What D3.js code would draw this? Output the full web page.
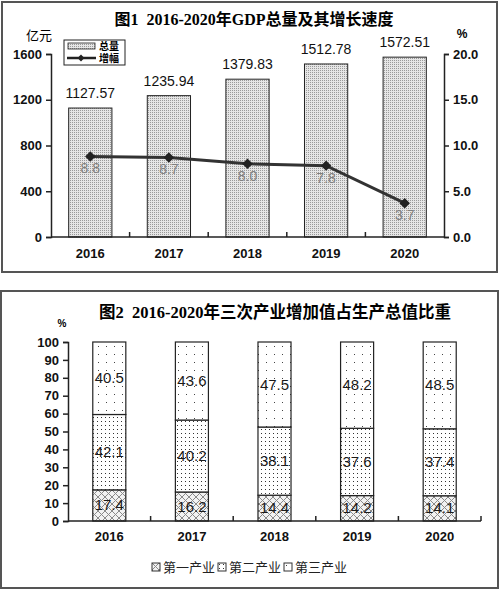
<!DOCTYPE html>
<html>
<head>
<meta charset="utf-8">
<script src="https://cdn.jsdelivr.net/npm/d3@7"></script>
<style>
  body { margin: 0; background: #fff; }
  svg { display: block; }
</style>
</head>
<body>
<svg id="chart" width="500" height="589"></svg>
<script>
// chart 1 data
const years = ["2016", "2017", "2018", "2019", "2020"];
const gdp = [1127.57, 1235.94, 1379.83, 1512.78, 1572.51];
const growth = [8.8, 8.7, 8.0, 7.8, 3.7];
const gdpTicks = [0, 400, 800, 1200, 1600];
const growthTicks = [0, 5, 10, 15, 20];

// chart 2 data
const primary = [17.4, 16.2, 14.4, 14.2, 14.1];
const secondary = [42.1, 40.2, 38.1, 37.6, 37.4];
const tertiary = [40.5, 43.6, 47.5, 48.2, 48.5];
const shareTicks = [0, 10, 20, 30, 40, 50, 60, 70, 80, 90, 100];
const industryNames = ["第一产业", "第二产业", "第三产业"];

const SANS = "'Liberation Sans', Arial, 'Noto Sans CJK SC', sans-serif";
const TITLE = "'Liberation Serif', 'Noto Sans CJK SC', serif";

const SVG = d3.select("#chart");

// patterns
const defs = SVG.append("defs");
const p1 = defs.append("pattern").attr("id", "gdpPat")
    .attr("width", 2).attr("height", 2).attr("patternUnits", "userSpaceOnUse");
p1.append("rect").attr("width", 2).attr("height", 2).attr("fill", "#e6e6e6");
p1.append("rect").attr("width", 1).attr("height", 1).attr("fill", "#9a9a9a");

const pT = defs.append("pattern").attr("id", "terPat")
    .attr("width", 8).attr("height", 8).attr("patternUnits", "userSpaceOnUse");
pT.append("rect").attr("width", 8).attr("height", 8).attr("fill", "#fff");
pT.append("rect").attr("x", 2).attr("y", 2).attr("width", 1).attr("height", 1).attr("fill", "#444");

const pS = defs.append("pattern").attr("id", "secPat")
    .attr("width", 4).attr("height", 4).attr("patternUnits", "userSpaceOnUse");
pS.append("rect").attr("width", 4).attr("height", 4).attr("fill", "#fff");
pS.append("rect").attr("x", 1).attr("y", 1).attr("width", 1).attr("height", 1).attr("fill", "#333");

const pP = defs.append("pattern").attr("id", "priPat")
    .attr("width", 7).attr("height", 7).attr("patternUnits", "userSpaceOnUse");
pP.append("rect").attr("width", 7).attr("height", 7).attr("fill", "#f2f2f2");
pP.append("path").attr("d", "M0,0L7,7M7,0L0,7").attr("stroke", "#8a8a8a").attr("stroke-width", 1);

// frames
SVG.append("rect").attr("x", 2).attr("y", 2).attr("width", 495).attr("height", 270)
    .attr("fill", "none").attr("stroke", "#555").attr("stroke-width", 2);
SVG.append("rect").attr("x", 1).attr("y", 291).attr("width", 497).attr("height", 297)
    .attr("fill", "none").attr("stroke", "#555").attr("stroke-width", 2);

// ---------- chart 1 ----------
const xScale = d3.scaleBand().domain(years).range([51, 444]).paddingInner(0.45).paddingOuter(0.225);
const yScale = d3.scaleLinear().domain([0, 1600]).range([237, 54]);
const yScale2 = d3.scaleLinear().domain([0, 20]).range([237, 54]);

SVG.append("text").attr("x", 254).attr("y", 25).attr("text-anchor", "middle")
    .attr("font-family", TITLE).attr("font-weight", "bold").attr("font-size", 16)
    .attr("xml:space", "preserve")
    .text("图1  2016-2020年GDP总量及其增长速度");
SVG.append("text").attr("x", 39).attr("y", 40).attr("text-anchor", "middle")
    .attr("font-family", SANS).attr("font-size", 13).text("亿元");
SVG.append("text").attr("x", 462).attr("y", 38).attr("text-anchor", "middle")
    .attr("font-family", SANS).attr("font-size", 12).attr("font-weight", "bold").text("%");

SVG.append("g").selectAll("rect").data(years).enter().append("rect")
    .attr("x", (d) => xScale(d))
    .attr("y", (d, i) => yScale(gdp[i]))
    .attr("width", xScale.bandwidth())
    .attr("height", (d, i) => yScale(0) - yScale(gdp[i]))
    .attr("fill", "url(#gdpPat)").attr("stroke", "#222").attr("stroke-width", 1);

SVG.append("g").selectAll("text").data(years).enter().append("text")
    .attr("x", (d) => xScale(d) + xScale.bandwidth() / 2)
    .attr("y", (d, i) => yScale(gdp[i]) - 10)
    .attr("text-anchor", "middle").attr("font-family", SANS).attr("font-size", 14)
    .attr("fill", "#111")
    .text((d, i) => gdp[i].toFixed(2));

const leftAxis = SVG.append("g").attr("transform", "translate(51,0)")
    .call(d3.axisLeft(yScale).tickValues(gdpTicks).tickSize(5).tickPadding(4).tickFormat(d3.format("d")));
const rightAxis = SVG.append("g").attr("transform", "translate(444,0)")
    .call(d3.axisRight(yScale2).tickValues(growthTicks).tickSize(5).tickPadding(4).tickFormat(d3.format(".1f")));
const bottomAxis = SVG.append("g").attr("transform", "translate(0,237)")
    .call(d3.axisBottom(xScale).tickSize(0).tickPadding(12));
[leftAxis, rightAxis, bottomAxis].forEach((g) => {
    g.selectAll("text").attr("font-family", SANS).attr("font-size", 13).attr("font-weight", "bold").attr("fill", "#111");
    g.selectAll("line, path").attr("stroke", "#222").attr("stroke-width", 1.5);
});
bottomAxis.select(".domain").attr("d", "M51,0H444");
// boundary ticks pointing up
SVG.append("g").selectAll("line").data(years.slice(1)).enter().append("line")
    .attr("x1", (d) => xScale(d) - xScale.step() * xScale.paddingInner() / 2)
    .attr("x2", (d) => xScale(d) - xScale.step() * xScale.paddingInner() / 2)
    .attr("y1", 237).attr("y2", 232).attr("stroke", "#222").attr("stroke-width", 1.5);

const line = d3.line()
    .x((d, i) => xScale(years[i]) + xScale.bandwidth() / 2)
    .y((d) => yScale2(d));
SVG.append("path").datum(growth).attr("d", line)
    .attr("fill", "none").attr("stroke", "#333").attr("stroke-width", 3);
SVG.append("g").selectAll("path").data(growth).enter().append("path")
    .attr("d", d3.symbol().type(d3.symbolDiamond2).size(70))
    .attr("transform", (d, i) => `translate(${xScale(years[i]) + xScale.bandwidth() / 2},${yScale2(d)})`)
    .attr("fill", "#222");
SVG.append("g").selectAll("text").data(growth).enter().append("text")
    .attr("x", (d, i) => xScale(years[i]) + xScale.bandwidth() / 2)
    .attr("y", (d) => yScale2(d) + 17)
    .attr("text-anchor", "middle").attr("font-family", SANS).attr("font-size", 14)
    .attr("fill", "#808080")
    .text((d) => d.toFixed(1));

// legend 1
const leg1 = SVG.append("g");
leg1.append("rect").attr("x", 64).attr("y", 40).attr("width", 61).attr("height", 25)
    .attr("fill", "#fff").attr("stroke", "#222").attr("stroke-width", 1);
leg1.append("rect").attr("x", 68).attr("y", 43).attr("width", 27).attr("height", 6)
    .attr("fill", "url(#gdpPat)").attr("stroke", "#222").attr("stroke-width", 0.8);
leg1.append("line").attr("x1", 67).attr("x2", 96).attr("y1", 58).attr("y2", 58)
    .attr("stroke", "#222").attr("stroke-width", 2.5);
leg1.append("path").attr("d", d3.symbol().type(d3.symbolDiamond2).size(30))
    .attr("transform", "translate(81,58)").attr("fill", "#222");
leg1.append("text").attr("x", 99).attr("y", 50).attr("font-family", SANS)
    .attr("font-size", 10).attr("font-weight", "bold").text("总量");
leg1.append("text").attr("x", 99).attr("y", 62).attr("font-family", SANS)
    .attr("font-size", 10).attr("font-weight", "bold").text("增幅");

// ---------- chart 2 ----------
const x2 = d3.scaleBand().domain(years).range([68, 481]).paddingInner(0.6).paddingOuter(0.3);
const y2 = d3.scaleLinear().domain([0, 100]).range([521, 342]);

SVG.append("text").attr("x", 275).attr("y", 318).attr("text-anchor", "middle")
    .attr("font-family", TITLE).attr("font-weight", "bold").attr("font-size", 16.5)
    .attr("xml:space", "preserve")
    .text("图2  2016-2020年三次产业增加值占生产总值比重");
SVG.append("text").attr("x", 62).attr("y", 327).attr("text-anchor", "middle")
    .attr("font-family", SANS).attr("font-size", 10).attr("font-weight", "bold").text("%");

const table = years.map((y, i) => ({ year: y, p: primary[i], s: secondary[i], t: tertiary[i] }));
const keys = ["p", "s", "t"];
const fills = { p: "url(#priPat)", s: "url(#secPat)", t: "url(#terPat)" };
const stacked = d3.stack().keys(keys)(table);

const layers = SVG.append("g").selectAll("g").data(stacked).enter().append("g");
layers.selectAll("rect").data((d) => d.map((v) => ({ key: d.key, v: v }))).enter().append("rect")
    .attr("x", (d) => x2(d.v.data.year))
    .attr("y", (d) => y2(d.v[1]))
    .attr("width", x2.bandwidth())
    .attr("height", (d) => y2(d.v[0]) - y2(d.v[1]))
    .attr("fill", (d) => fills[d.key]).attr("stroke", "#222").attr("stroke-width", 1.2);
layers.selectAll("text").data((d) => d.map((v) => ({ key: d.key, v: v }))).enter().append("text")
    .attr("x", (d) => x2(d.v.data.year) + x2.bandwidth() / 2)
    .attr("y", (d) => (y2(d.v[0]) + y2(d.v[1])) / 2 + 5)
    .attr("text-anchor", "middle").attr("font-family", SANS).attr("font-size", 15)
    .attr("fill", "#1a1a1a")
    .text((d) => d.v.data[d.key].toFixed(1));

const leftAxis2 = SVG.append("g").attr("transform", "translate(68,0)")
    .call(d3.axisLeft(y2).tickValues(shareTicks).tickSize(5).tickPadding(4));
const bottomAxis2 = SVG.append("g").attr("transform", "translate(0,521)")
    .call(d3.axisBottom(x2).tickSize(0).tickPadding(11));
[leftAxis2, bottomAxis2].forEach((g) => {
    g.selectAll("text").attr("font-family", SANS).attr("font-size", 13).attr("font-weight", "bold").attr("fill", "#111");
    g.selectAll("line, path").attr("stroke", "#222").attr("stroke-width", 1.5);
});
bottomAxis2.select(".domain").attr("d", "M68,0H481");
SVG.append("g").selectAll("line").data(years.slice(1).concat(["end"])).enter().append("line")
    .attr("x1", (d) => d === "end" ? 481 : x2(d) - x2.step() * x2.paddingInner() / 2)
    .attr("x2", (d) => d === "end" ? 481 : x2(d) - x2.step() * x2.paddingInner() / 2)
    .attr("y1", 521).attr("y2", 516).attr("stroke", "#222").attr("stroke-width", 1.5);

// legend 2
const legX = [152, 218, 284];
const leg2 = SVG.append("g").selectAll("g").data(industryNames).enter().append("g")
    .attr("transform", (d, i) => `translate(${legX[i]},563)`);
leg2.append("rect").attr("width", 8).attr("height", 8)
    .attr("fill", (d, i) => fills[keys[i]]).attr("stroke", "#333").attr("stroke-width", 1);
leg2.append("text").attr("x", 11).attr("y", 9).attr("font-family", SANS)
    .attr("font-size", 13).attr("fill", "#222").text((d) => d);
</script>
</body>
</html>
